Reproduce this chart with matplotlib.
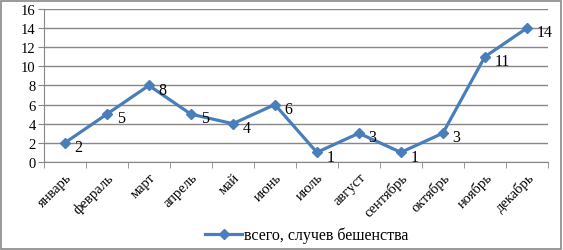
import numpy as np
import matplotlib
matplotlib.use("Agg")
from matplotlib import pyplot as plt
from matplotlib.patches import Rectangle

# data
months = ["январь", "февраль", "март", "апрель", "май", "июнь",
          "июль", "август", "сентябрь", "октябрь", "ноябрь", "декабрь"]
cases = [2, 5, 8, 5, 4, 6, 1, 3, 1, 3, 11, 14]
series_name = "всего, случев бешенства"

plt.rcParams['font.family'] = ['Liberation Serif', 'DejaVu Serif']
blue = '#4A7EBB'
grey = '#878787'

fig = plt.figure(figsize=(5.63, 2.51), dpi=100)
ax = fig.add_axes([0.078, 0.351, 0.895, 0.609])

x = np.arange(len(months))
ax.plot(x, cases, color=blue, lw=2.3, marker='D', ms=5.5, label=series_name, zorder=3)

for xi, yi in zip(x, cases):
    ax.annotate(str(yi), (xi, yi), xytext=(7, -3), textcoords='offset points',
                ha='left', va='center', fontsize=11.5)

ax.set_xlim(-0.5, len(months) - 0.5)
ax.set_ylim(0, 16)
ax.set_yticks(range(0, 17, 2))
ax.yaxis.grid(True, color=grey, lw=1)
ax.set_axisbelow(True)

ax.set_xticks(x)
ax.set_xticklabels(months, rotation=45, ha='right', rotation_mode='anchor', fontsize=10.5)
ax.set_xticks(np.arange(-0.5, len(months), 1), minor=True)
ax.tick_params(axis='x', which='major', length=0, pad=6)
ax.tick_params(axis='x', which='minor', length=4, color=grey, direction='out')
ax.tick_params(axis='y', length=4, color=grey, labelsize=10.5, pad=2)

for s in ['top', 'right']:
    ax.spines[s].set_visible(False)
ax.spines['left'].set_color(grey)
ax.spines['bottom'].set_color(grey)

fig.legend(loc='center', bbox_to_anchor=(0.545, 0.06), frameon=False, fontsize=11.5,
           handlelength=2.3, handletextpad=0.1)

fig.patches.append(Rectangle((0.002, 0.004), 0.995, 0.99, transform=fig.transFigure,
                             fill=False, edgecolor=grey, lw=1.2))

plt.savefig("out.png", dpi=100)
